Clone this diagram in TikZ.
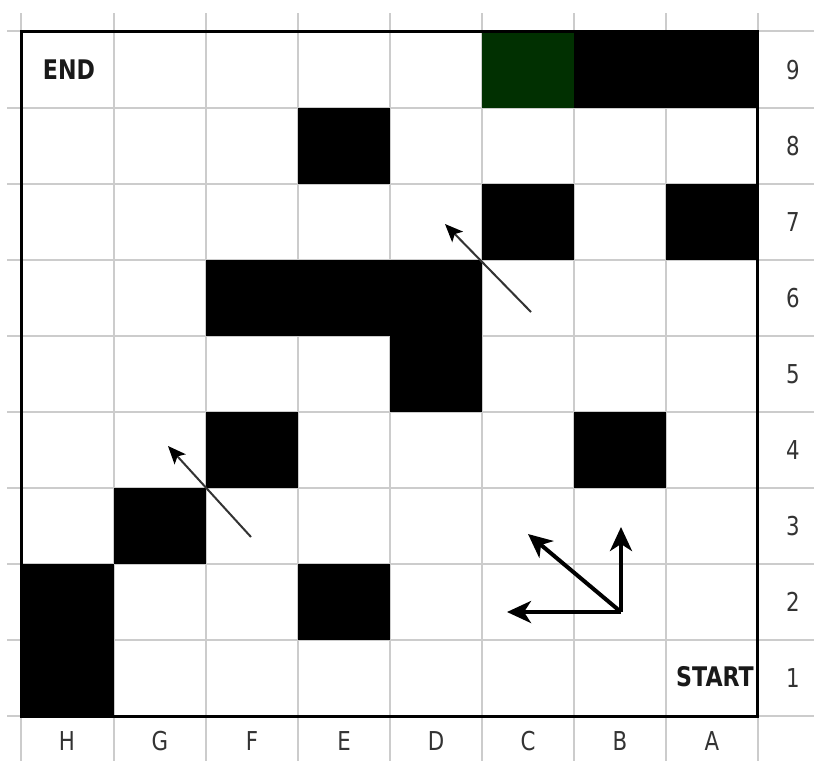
\documentclass[tikz,border=0pt]{standalone}
\usepackage{fontspec}
\setmainfont{DejaVu Sans}
\usepackage{graphicx}
\usetikzlibrary{arrows.meta}
\definecolor{gridgrey}{RGB}{204,204,204}
\definecolor{labelgrey}{RGB}{51,51,51}
\definecolor{goalgreen}{RGB}{1,48,1}
\tikzset{
  gridline/.style={draw=gridgrey, line width=2pt},
  blockcell/.style={fill=black},
  goalcell/.style={fill=goalgreen},
  framebox/.style={draw=black, line width=3pt},
  axislabel/.style={font=\fontsize{26}{26}\selectfont, text=labelgrey, inner sep=0pt},
  marklabel/.style={font=\fontsize{27}{27}\selectfont\bfseries, text=black!90, inner sep=0pt},
  thinarrow/.style={draw=black!80, line width=2pt, -{Stealth[length=18pt,width=15pt,inset=4pt,color=black]}},
  thickarrow/.style={draw=black, line width=4pt, -{Stealth[length=24pt,width=22pt,inset=7pt]}}
}
\begin{document}
\begin{tikzpicture}[x=1pt,y=-1pt]
\fill[white] (0,0) rectangle (814,761);
\useasboundingbox (0,0) rectangle (814,761);
% grid lines
\foreach \x in {21,114,206,298,390,482,574,666,758} {\draw[gridline] (\x,13) -- (\x,761);}
\foreach \y in {31,108,184,260,336,412,488,564,640,716} {\draw[gridline] (7,\y) -- (814,\y);}
% cells
\fill[goalcell] (482,31) rectangle (574,108);
\fill[blockcell] (574,31) rectangle (758,108);
\fill[blockcell] (298,108) rectangle (390,184);
\fill[blockcell] (482,184) rectangle (574,260);
\fill[blockcell] (666,184) rectangle (758,260);
\fill[blockcell] (206,260) rectangle (482,336);
\fill[blockcell] (390,336) rectangle (482,412);
\fill[blockcell] (206,412) rectangle (298,488);
\fill[blockcell] (574,412) rectangle (666,488);
\fill[blockcell] (114,488) rectangle (206,564);
\fill[blockcell] (21,564) rectangle (114,716);
\fill[blockcell] (298,564) rectangle (390,640);
% frame
\draw[framebox] (21,31) rectangle (757,716);
% labels
\node[marklabel] (endlbl) at (69,70) {\scalebox{0.82}[1]{END}};
\node[marklabel, anchor=east] (startlbl) at (754,677) {\scalebox{0.82}[1]{START}};
\foreach \n/\y in {9/70,8/146,7/222,6/298,5/374,4/450,3/526,2/602,1/678}
  {\node[axislabel] (row\n) at (793,\y) {\scalebox{0.82}[1]{\n}};}
\foreach \c/\x in {H/67,G/160,F/252,E/344,D/436,C/528,B/620,A/712}
  {\node[axislabel] (col\c) at (\x,741) {\scalebox{0.82}[1]{\c}};}
% thin arrows
\coordinate (ta1) at (531,312);
\coordinate (tb1) at (445,224);
\coordinate (ta2) at (251,537);
\coordinate (tb2) at (168,446);
\draw[thinarrow] (ta1) -- (tb1);
\draw[thinarrow] (ta2) -- (tb2);
% thick arrows
\coordinate (orig) at (621,612);
\coordinate (tipup) at (621,527);
\coordinate (tipleft) at (507,612);
\coordinate (tipdiag) at (528,534);
\draw[thickarrow] (orig) -- (tipup);
\draw[thickarrow] (orig) -- (tipleft);
\draw[thickarrow] (orig) -- (tipdiag);
\end{tikzpicture}
\end{document}
